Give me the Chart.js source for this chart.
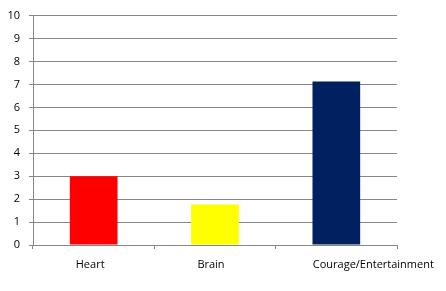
<!DOCTYPE html>
<html>
<head>
<meta charset="utf-8">
<script src="https://cdn.jsdelivr.net/npm/chart.js@4.4.1/dist/chart.umd.min.js"></script>
<style>
    html, body { margin: 0; padding: 0; background: #fff; }
    canvas { display: block; }
</style>
</head>
<body>
<canvas id="chart" width="446" height="291"></canvas>
<script>
// Chart data
const categories = ['Heart', 'Brain', 'Courage/Entertainment'];
const values = [3.0, 1.77, 7.13];
const barColors = ['#ff0000', '#ffff00', '#002060'];
const yTicks = [0, 1, 2, 3, 4, 5, 6, 7, 8, 9, 10];

const gridColor = '#868686';
const fontFamily = '"Open Sans", "Liberation Sans", sans-serif';

// Excel-style category labels, nudged a little like the original
const labelShift = [-3.5, -4, 37];
const categoryLabels = {
    id: 'categoryLabels',
    afterDraw(chart) {
        const ctx = chart.ctx;
        const xScale = chart.scales.x;
        ctx.save();
        ctx.font = '11px ' + fontFamily;
        ctx.fillStyle = '#000';
        ctx.textAlign = 'center';
        ctx.textBaseline = 'alphabetic';
        categories.forEach((label, i) => {
            const x = xScale.getPixelForValue(i) + labelShift[i];
            ctx.fillText(label, x, 268);
        });
        ctx.restore();
    }
};

new Chart(document.getElementById('chart'), {
    type: 'bar',
    data: {
        labels: categories,
        datasets: [{
            data: values,
            backgroundColor: barColors,
            borderWidth: 0,
            barPercentage: 0.393,
            categoryPercentage: 1
        }]
    },
    options: {
        responsive: false,
        animation: false,
        devicePixelRatio: 1,
        layout: { padding: { top: 12, right: 49, left: 0, bottom: 0 } },
        plugins: {
            legend: { display: false },
            tooltip: { enabled: false }
        },
        scales: {
            x: {
                offset: true,
                afterFit: (scale) => { scale.height = 46; },
                grid: {
                    drawOnChartArea: false,
                    drawTicks: true,
                    tickLength: 4,
                    color: gridColor,
                    offset: true
                },
                border: { color: gridColor },
                ticks: { display: false }
            },
            y: {
                min: 0,
                max: 10,
                afterFit: (scale) => { scale.width = 33; },
                afterBuildTicks: (scale) => { scale.ticks = yTicks.map(v => ({ value: v })); },
                grid: {
                    color: gridColor,
                    tickLength: 4
                },
                border: { color: gridColor },
                ticks: {
                    padding: 9,
                    color: '#000',
                    font: { family: fontFamily, size: 11 }
                }
            }
        }
    },
    plugins: [categoryLabels]
});
</script>
</body>
</html>
